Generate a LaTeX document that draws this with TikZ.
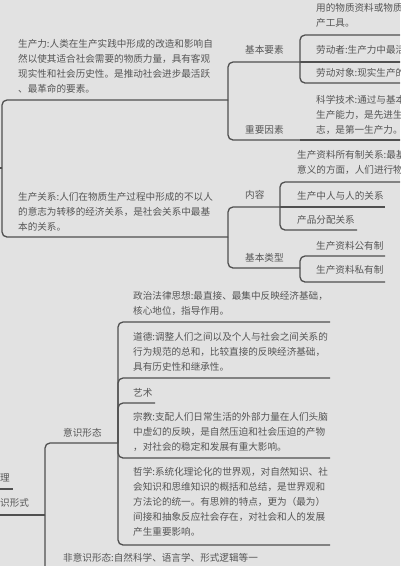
\documentclass[tikz,border=0pt]{standalone}
\usepackage{fontspec}
\newfontfamily\cjk{Noto Sans CJK SC}
\definecolor{bg}{HTML}{E2E2E2}
\definecolor{ln}{HTML}{505050}
\definecolor{tx}{HTML}{555555}
\begin{document}
\begin{tikzpicture}[x=1pt,y=-1pt,
  conn/.style={draw=ln, line width=1.3pt, rounded corners=5pt},
  txt/.style={anchor=base west, inner sep=0pt, align=left, text=tx,
    font=\cjk\fontsize{9.6}{15}\selectfont}]
\useasboundingbox (0,0) rectangle (400,566);
\fill[bg] (0,0) rectangle (400,566);
\clip (0,0) rectangle (400,566);

% junction coordinates (underline ends)
\coordinate (p00) at (-5,168);
\coordinate (p0) at (2,168);
\coordinate (sl) at (228,100);
\coordinate (sg) at (228,237);
\coordinate (jbys) at (300,62);
\coordinate (zyys) at (300,140);
\coordinate (ldzl) at (410,35);
\coordinate (ldz) at (410,62);
\coordinate (ldjx) at (410,83);
\coordinate (kxjs) at (410,140);
\coordinate (nr) at (280,207);
\coordinate (jblx) at (300,268);
\coordinate (syz) at (410,182);
\coordinate (ryr) at (385,207);
\coordinate (fp) at (357,230);
\coordinate (gyz) at (385,256);
\coordinate (syz2) at (385,282);

\coordinate (li0) at (-5,489);
\coordinate (li) at (13,489);
\coordinate (r0) at (-5,515);
\coordinate (r1) at (45,515);
\coordinate (ysxt) at (118,443);
\coordinate (fys) at (260,580);
\coordinate (zz) at (330,322);
\coordinate (dd) at (330,378);
\coordinate (ys) at (155,403);
\coordinate (zj) at (330,458);
\coordinate (zx) at (330,545);

% connectors
\draw[conn] (p00) -- (p0);
\draw[conn] (p0) |- (sl);
\draw[conn] (p0) |- (sg);
\draw[conn] (sl) |- (jbys);
\draw[conn] (sl) |- (zyys);
\draw[conn] (jbys) |- (ldzl);
\draw[conn] (jbys) -- (ldz);
\draw[conn] (jbys) |- (ldjx);
\draw[conn] (zyys) -- (kxjs);
\draw[conn] (sg) |- (nr);
\draw[conn] (sg) |- (jblx);
\draw[conn] (nr) |- (syz);
\draw[conn] (nr) -- (ryr);
\draw[conn] (nr) |- (fp);
\draw[conn] (jblx) |- (gyz);
\draw[conn] (jblx) |- (syz2);

\draw[conn] (li0) -- (li);
\draw[conn] (r0) -- (r1);
\draw[conn] (r1) |- (ysxt);
\draw[conn] (r1) |- (fys);
\draw[conn] (ysxt) |- (zz);
\draw[conn] (ysxt) |- (dd);
\draw[conn] (ysxt) |- (ys);
\draw[conn] (ysxt) |- (zj);
\draw[conn] (ysxt) |- (zx);

% texts (multi-line nodes: base = baseline of the last line)
\node[txt] (t_sl) at (18,92.6) {生产力:人类在生产实践中形成的改造和影响自\\然以使其适合社会需要的物质力量，具有客观\\现实性和社会历史性。是推动社会进步最活跃\\、最革命的要素。};
\node[txt] (t_jbys) at (245,53.6) {基本要素};
\node[txt] (t_ldzl) at (316,26.6) {用的物质资料或物质\\产工具。};
\node[txt] (t_ldz) at (316,53.6) {劳动者:生产力中最活};
\node[txt] (t_ldjx) at (316,76.6) {劳动对象:现实生产的};
\node[txt] (t_kxjs) at (316,133.6) {科学技术:通过与基本\\生产能力，是先进生\\志，是第一生产力。};
\node[txt] (t_zyys) at (245,133.6) {重要因素};
\node[txt] (t_syz) at (297,173.6) {生产资料所有制关系:最基\\意义的方面，人们进行物};
\node[txt] (t_sg) at (18,230.6) {生产关系:人们在物质生产过程中形成的不以人\\的意志为转移的经济关系，是社会关系中最基\\本的关系。};
\node[txt] (t_nr) at (245,198.6) {内容};
\node[txt] (t_ryr) at (297,199.6) {生产中人与人的关系};
\node[txt] (t_fp) at (297,223.6) {产品分配关系};
\node[txt] (t_jblx) at (245,261.6) {基本类型};
\node[txt] (t_gyz) at (316,249.6) {生产资料公有制};
\node[txt] (t_syz2) at (316,273.6) {生产资料私有制};
\node[txt] (t_zz) at (133,314.6) {政治法律思想:最直接、最集中反映经济基础，\\核心地位，指导作用。};
\node[txt] (t_dd) at (133,370.6) {道德:调整人们之间以及个人与社会之间关系的\\行为规范的总和，比较直接的反映经济基础，\\具有历史性和继承性。};
\node[txt] (t_ys) at (133,396.6) {艺术};
\node[txt] (t_zj) at (133,450.6) {宗教:支配人们日常生活的外部力量在人们头脑\\中虚幻的反映，是自然压迫和社会压迫的产物\\，对社会的稳定和发展有重大影响。};
\node[txt] (t_zx) at (133,535.6) {哲学:系统化理论化的世界观，对自然知识、社\\会知识和思维知识的概括和总结，是世界观和\\方法论的统一。有思辨的特点，更为（最为）\\间接和抽象反应社会存在，对社会和人的发展\\产生重要影响。};
\node[txt] (t_ysxt) at (63,436.6) {意识形态};
\node[txt] (t_fys) at (63,561.6) {非意识形态:自然科学、语言学、形式逻辑等一};
\node[txt] (t_li) at (0,481.6) {理};
\node[txt] (t_shi) at (0,506.6) {识形式};
\end{tikzpicture}
\end{document}
